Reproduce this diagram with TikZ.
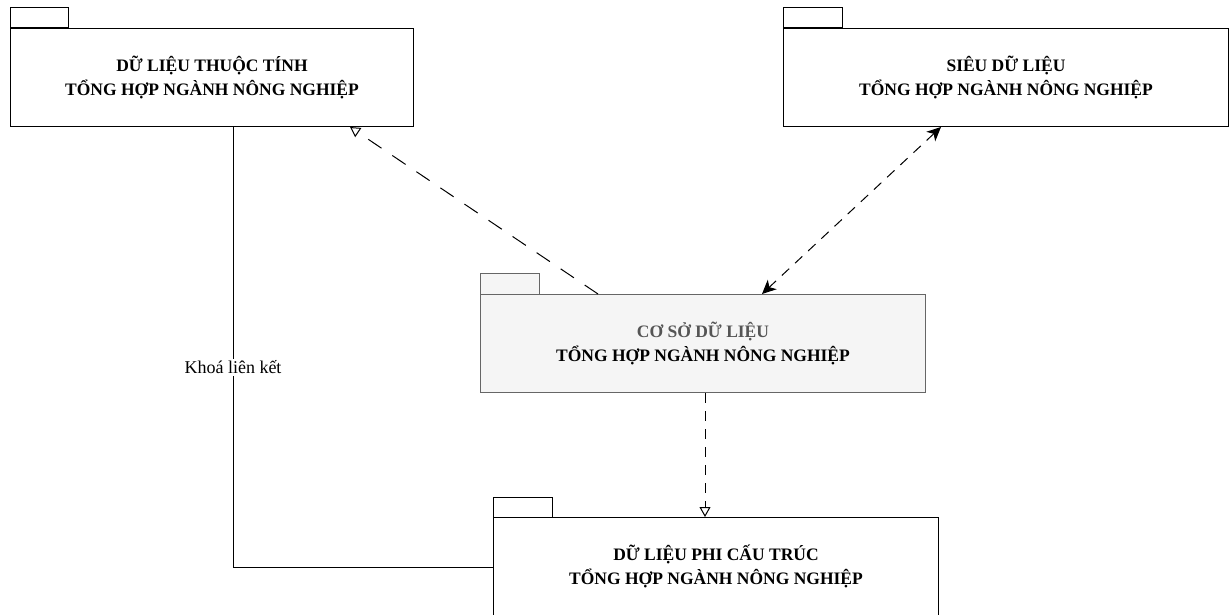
\documentclass[tikz,border=0pt]{standalone}
\usepackage{fontspec}
\setmainfont{Liberation Serif}
\definecolor{cFill}{HTML}{F5F5F5}
\definecolor{cEdge}{HTML}{666666}
\definecolor{cGrayText}{HTML}{555555}
\usetikzlibrary{arrows.meta}
\usetikzlibrary{calc}
\usetikzlibrary{positioning}

\begin{document}
\begin{tikzpicture}[x=1pt, y=-1pt, line width=1pt,
    pkgbody/.style={draw, minimum width=403pt, minimum height=98pt, anchor=north west, align=center, inner sep=0pt, font=\fontsize{17.5}{24}\selectfont\bfseries},
    pkgwide/.style={pkgbody, minimum width=445pt},
    pkggray/.style={pkgwide, fill=cFill, draw=cEdge},
    dashlong/.style={dash pattern=on 16pt off 13pt},
    dashshort/.style={dash pattern=on 10pt off 8pt},
    opentip/.style={-{Triangle[open, length=10pt, width=11pt]}},
    bothtips/.style={{Stealth[length=14pt, width=13pt, inset=4pt]}-{Stealth[length=14pt, width=13pt, inset=4pt]}}]
	\useasboundingbox (0,0) rectangle (1232,615);
	% packages
	\node [pkgbody] (attr) at (10,28) {DỮ LIỆU THUỘC TÍNH\\TỔNG HỢP NGÀNH NÔNG NGHIỆP};
	\draw (attr.north west) rectangle ++(58,-20);
	\node [pkgwide] (meta) at (783,28) {SIÊU DỮ LIỆU\\TỔNG HỢP NGÀNH NÔNG NGHIỆP};
	\draw (meta.north west) rectangle ++(59,-20);
	\node [pkggray] (csdl) at (480,294) {\textcolor{cGrayText}{CƠ SỞ DỮ LIỆU}\\TỔNG HỢP NGÀNH NÔNG NGHIỆP};
	\draw [fill=cFill, draw=cEdge] (csdl.north west) rectangle ++(59,-21);
	\node [pkgwide] (unstr) at (493,517) {DỮ LIỆU PHI CẤU TRÚC\\TỔNG HỢP NGÀNH NÔNG NGHIỆP};
	\draw (unstr.north west) rectangle ++(59,-20);
	% relations
	\draw [dashlong, opentip] ([xshift=118pt]csdl.north west) -- ([xshift=340pt]attr.south west);
	\draw [dashshort, bothtips] ([xshift=158pt]meta.south west) -- ([xshift=282pt]csdl.north west);
	\draw [dashshort, opentip] ([xshift=225pt]csdl.south west) -- ([xshift=212pt]unstr.north west);
	\draw ([xshift=223pt]attr.south west) |- node[pos=0.273, fill=white, inner sep=2pt, font=\fontsize{18}{20}\selectfont] {Khoá liên kết} ([yshift=-50pt]unstr.north west);
\end{tikzpicture}
\end{document}
